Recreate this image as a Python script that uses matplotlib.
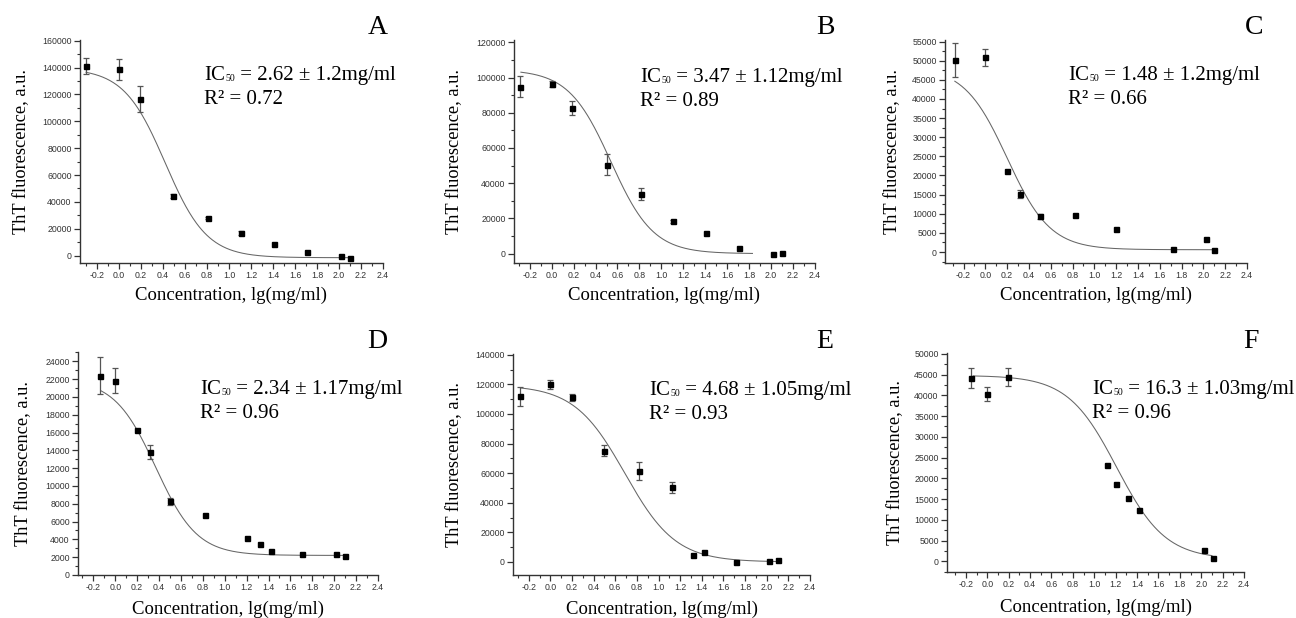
import numpy as np
import matplotlib
matplotlib.use("Agg")
import matplotlib.pyplot as plt
from matplotlib.ticker import MultipleLocator

W, H = 1296, 618

# ---------------- data ----------------
panel_letters = ["A", "B", "C", "D", "E", "F"]

A_x = [-0.30, 0.0, 0.19, 0.49, 0.81, 1.11, 1.41, 1.71, 2.02, 2.10]
A_y = [141200, 138700, 116400, 44100, 28000, 16800, 8700, 2500, -500, -1700]
A_err = [6200, 8000, 9600, 1500, 1000, 1200, 0, 0, 0, 0]

B_x = [-0.29, 0.0, 0.19, 0.50, 0.81, 1.11, 1.41, 1.71, 2.02, 2.10]
B_y = [94900, 96400, 82600, 50500, 34000, 18300, 11700, 3200, 0, 400]
B_err = [5700, 1500, 3800, 6000, 3300, 1000, 0, 0, 0, 0]

C_x = [-0.28, 0.0, 0.20, 0.32, 0.50, 0.82, 1.20, 1.72, 2.02, 2.10]
C_y = [50200, 50900, 21300, 15200, 9300, 9700, 6100, 800, 3500, 400]
C_err = [4400, 2200, 0, 1000, 700, 0, 0, 0, 0, 0]

D_x = [-0.14, 0.0, 0.20, 0.32, 0.50, 0.82, 1.20, 1.32, 1.42, 1.71, 2.02, 2.10]
D_y = [22400, 21800, 16300, 13800, 8300, 6700, 4200, 3450, 2700, 2400, 2400, 2150]
D_err = [2100, 1400, 0, 800, 400, 0, 0, 0, 0, 0, 0, 0]

E_x = [-0.28, 0.0, 0.20, 0.50, 0.82, 1.12, 1.32, 1.42, 1.72, 2.02, 2.10]
E_y = [111800, 120100, 111300, 75200, 61600, 50400, 4700, 7000, 0, 700, 1400]
E_err = [6100, 3000, 2500, 3600, 5900, 3900, 0, 0, 0, 0, 0]

F_x = [-0.15, 0.0, 0.19, 1.12, 1.20, 1.32, 1.42, 2.03, 2.11]
F_y = [44200, 40400, 44500, 23100, 18700, 15300, 12400, 2700, 800]
F_err = [2400, 1700, 2200, 0, 0, 0, 0, 0, 0]

# dose-response fit parameters: top, bottom, log IC50, hill slope, x range
fit_top = [139500, 104500, 48500, 22000, 119500, 44800]
fit_bottom = [-1500, 0, 600, 2200, 0, 500]
fit_x0 = [0.42, 0.54, 0.20, 0.37, 0.69, 1.21]
fit_hill = [2.3, 2.25, 2.2, 2.3, 1.85, 1.9]
fit_xstart = [-0.30, -0.28, -0.28, -0.13, -0.27, -0.13]
fit_xend = [2.10, 1.83, 2.10, 2.10, 2.10, 2.10]

ic50_text = ["2.62 ± 1.2mg/ml", "3.47 ± 1.12mg/ml", "1.48 ± 1.2mg/ml",
             "2.34 ± 1.17mg/ml", "4.68 ± 1.05mg/ml", "16.3 ± 1.03mg/ml"]
r2_text = ["0.72", "0.89", "0.66", "0.96", "0.93", "0.96"]

y_step = [20000, 20000, 5000, 2000, 20000, 5000]
y_lims = [(-5450, 160500), (-5300, 121300), (-2870, 55400),
          (0, 25050), (-8800, 140500), (-2570, 50200)]
x_mins = [-0.355, -0.343, -0.37, -0.34, -0.345, -0.376]

xs = [A_x, B_x, C_x, D_x, E_x, F_x]
ys = [A_y, B_y, C_y, D_y, E_y, F_y]
errs = [A_err, B_err, C_err, D_err, E_err, F_err]

# ---------------- layout (pixels) ----------------
boxes = [(80, 383, 40, 263), (514, 815, 40, 263), (945, 1247, 40, 263),
         (78, 378, 352, 575), (513, 810, 354, 575), (947, 1244, 353, 572)]
ylabel_x = [22, 455, 893, 24, 455, 896]
xlabel_y = [295, 295, 295, 609, 609, 607]
letter_pos = [(378, 27), (825, 27), (1254, 27), (377, 341), (825, 342), (1251, 341)]
ic_pos = [(204, 80), (640, 82), (1068, 80), (200, 394), (649, 395), (1092, 394)]

serif = 'Liberation Serif'
sans = 'Liberation Sans'

fig = plt.figure(figsize=(W / 100, H / 100), dpi=100)

for i in range(6):
    l, r, t, b = boxes[i]
    ax = fig.add_axes([l / W, 1 - b / H, (r - l) / W, (b - t) / H])
    ax.set_xlim(x_mins[i], 2.4)
    ax.set_ylim(*y_lims[i])
    for s in ['top', 'right']:
        ax.spines[s].set_visible(False)
    for s in ['left', 'bottom']:
        ax.spines[s].set_color('#333333')
        ax.spines[s].set_linewidth(1.0)
    ax.xaxis.set_major_locator(MultipleLocator(0.2))
    ax.xaxis.set_minor_locator(MultipleLocator(0.1))
    ax.yaxis.set_major_locator(MultipleLocator(y_step[i]))
    ax.yaxis.set_minor_locator(MultipleLocator(y_step[i] / 2))
    ax.tick_params(which='major', direction='out', length=4, width=0.9,
                   color='#333333', labelsize=6.3, labelcolor='#333333', pad=2)
    ax.tick_params(which='minor', direction='out', length=2, width=0.8,
                   color='#333333')
    ax.xaxis.set_major_formatter(plt.FuncFormatter(lambda v, p: f"{v:.1f}"))
    ax.yaxis.set_major_formatter(plt.FuncFormatter(lambda v, p: f"{int(round(v))}"))
    for lab in ax.get_xticklabels() + ax.get_yticklabels():
        lab.set_fontfamily(sans)

    # fit curve
    xc = np.linspace(fit_xstart[i], fit_xend[i], 300)
    yc = fit_bottom[i] + (fit_top[i] - fit_bottom[i]) / (1 + 10 ** ((xc - fit_x0[i]) * fit_hill[i]))
    ax.plot(xc, yc, color='#666666', lw=0.75, zorder=2)

    x = np.array(xs[i]); y = np.array(ys[i]); e = np.array(errs[i])
    m = e > 0
    ax.errorbar(x[m], y[m], yerr=e[m], fmt='none', ecolor='#555555',
                elinewidth=0.9, capsize=2.5, capthick=0.9, zorder=3)
    ax.plot(x, y, 's', color='black', markersize=3.6, zorder=4)

    # labels
    fig.text(ylabel_x[i] / W, 1 - ((t + b) / 2) / H, "ThT fluorescence, a.u.",
             rotation=90, ha='center', va='center', fontsize=13.2, family=serif)
    fig.text(((l + r) / 2) / W, 1 - xlabel_y[i] / H, "Concentration, lg(mg/ml)",
             ha='center', va='center', fontsize=13.5, family=serif)
    lx, ly = letter_pos[i]
    fig.text(lx / W, 1 - ly / H, panel_letters[i], ha='center', va='center',
             fontsize=20, family=serif)
    ix, iy = ic_pos[i]
    t1 = fig.text(ix / W, 1 - iy / H, "IC", ha='left', va='baseline',
                  fontsize=15, family=serif)
    t2 = ax.annotate("50", xy=(1, 0), xycoords=t1, xytext=(0.2, 1.5),
                     textcoords='offset points', ha='left', va='bottom',
                     fontsize=7, family=serif, annotation_clip=False)
    ax.annotate(" = " + ic50_text[i], xy=(1, 0), xycoords=t2, xytext=(0, -1.5),
                textcoords='offset points', ha='left', va='bottom',
                fontsize=15, family=serif, annotation_clip=False)
    fig.text(ix / W, 1 - (iy + 24) / H, "R² = " + r2_text[i],
             ha='left', va='baseline', fontsize=15, family=serif)

fig.savefig("out.png", dpi=100)
